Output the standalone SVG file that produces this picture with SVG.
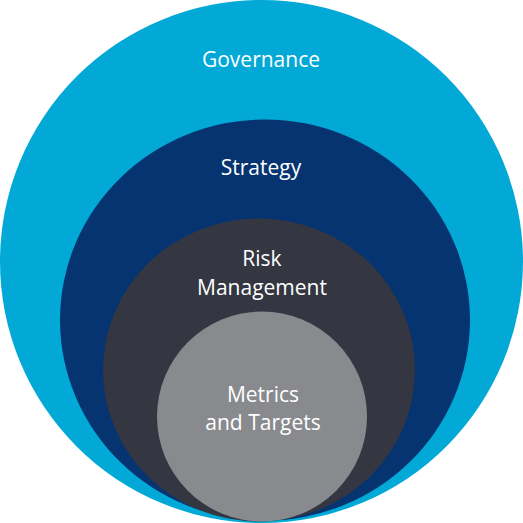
<svg xmlns="http://www.w3.org/2000/svg" width="523" height="523" viewBox="0 0 523 523">
<style>
.lbl{font-family:"Open Sans","Noto Sans","Liberation Sans",sans-serif;font-size:21px;fill:#ffffff;text-anchor:middle}
</style>
<rect width="523" height="523" fill="#ffffff"/>
<g id="governance">
<circle cx="261.5" cy="261.5" r="261.5" fill="#02A9D6"/>
<text class="lbl" x="261" y="67">Governance</text>
</g>
<g id="strategy">
<ellipse cx="265" cy="320" rx="205" ry="200.5" fill="#063471"/>
<text class="lbl" x="261" y="175">Strategy</text>
</g>
<g id="risk-management">
<ellipse cx="259" cy="370" rx="156" ry="151.5" fill="#343741"/>
<text class="lbl" x="262" y="266">Risk</text>
<text class="lbl" x="262" y="295">Management</text>
</g>
<g id="metrics-and-targets">
<circle cx="262" cy="416.5" r="105" fill="#888A8E"/>
<text class="lbl" x="263" y="401.5">Metrics</text>
<text class="lbl" x="263" y="430">and Targets</text>
</g>
<g id="connectors"></g>
</svg>
